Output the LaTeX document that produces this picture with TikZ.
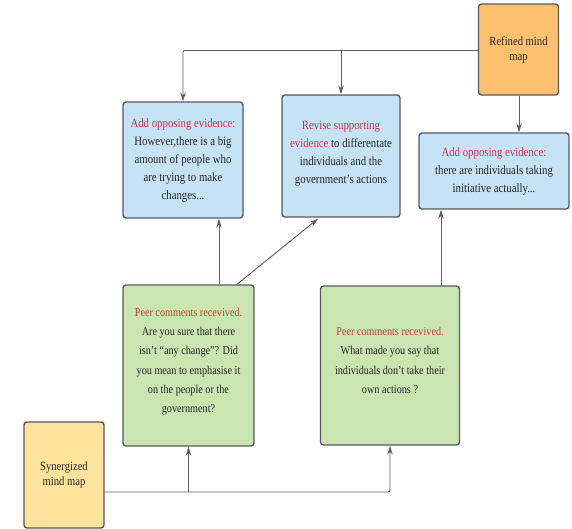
\documentclass[tikz,border=0pt]{standalone}
\usepackage{fontspec}
\setmainfont[FakeStretch=0.85]{Liberation Serif}
\usetikzlibrary{arrows.meta}
\definecolor{boxline}{HTML}{555A60}
\definecolor{txt}{HTML}{262626}
\definecolor{hl}{HTML}{D2304C}
\definecolor{hlpeer}{HTML}{C8402E}
\definecolor{bluefill}{HTML}{C6E3F5}
\definecolor{greenfill}{HTML}{CAE5B2}
\definecolor{orangefill}{HTML}{FFC070}
\definecolor{yellowfill}{HTML}{FFE39D}
\definecolor{conncol}{HTML}{5C5F63}
\tikzset{
  card/.style={draw=boxline, line width=1.4pt, rounded corners=3pt, align=center,
    text=txt, inner sep=2pt, font=\fontsize{12.7}{18}\selectfont},
  bluecard/.style={card, fill=bluefill},
  greencard/.style={card, fill=greenfill, font=\fontsize{12}{19.3}\selectfont},
  mapcard/.style={card, font=\fontsize{12.5}{15}\selectfont},
  conn/.style={draw=conncol, line width=0.9pt, -{Stealth[length=9pt,width=5.5pt]}},
}
\begin{document}
\begin{tikzpicture}[x=1pt,y=-1pt]
\useasboundingbox (0,0) rectangle (572,529);

% top row: revised evidence
\node[bluecard, minimum width=120pt, minimum height=116pt] (add1) at (183,160)
  {\textcolor{hl}{Add opposing evidence:}\\However,there is a big\\amount of people who\\are trying to make\\changes...};
\node[bluecard, minimum width=118pt, minimum height=122pt] (revise) at (341,156)
  {\textcolor{hl}{Revise supporting}\\\textcolor{hl}{evidence} to differentate\\individuals and the\\government's actions\\[-11pt]};
\node[bluecard, minimum width=150pt, minimum height=76pt] (add2) at (494,171)
  {\textcolor{hl}{Add opposing evidence:}\\there are individuals taking\\initiative actually...};

% refined map
\node[mapcard, fill=orangefill, minimum width=80pt, minimum height=91pt] (refined) at (518.5,49.5)
  {Refined mind\\map};

% peer comments
\node[greencard, minimum width=131pt, minimum height=161pt] (peer1) at (188.5,365.5)
  {\textcolor{hlpeer}{Peer comments recevived.}\\Are you sure that there\\isn't “any change”? Did\\you mean to emphasise it\\on the people or the\\government?\\[-9pt]};
\node[greencard, minimum width=139pt, minimum height=159pt] (peer2) at (390,365.5)
  {\textcolor{hlpeer}{Peer comments recevived.}\\What made you say that\\individuals don't take their\\own actions ?\\[-9pt]};

% synergized map
\node[mapcard, fill=yellowfill, minimum width=80pt, minimum height=106pt] (syn) at (64,475)
  {Synergized\\mind map};

% refined map feeds the top row
\coordinate (rw) at ([yshift=-1pt]refined.west);
\draw[conn, rounded corners=2pt] (rw) -| (add1.north);
\draw[conn] (rw -| revise.north) -- (revise.north);
\draw[conn] (refined.south -| 519,0) -- (add2.north -| 519,0);

% peer comments lead to revisions
\draw[conn] ([xshift=30.5pt]peer1.north) -- ([xshift=30.5pt]peer1.north |- add1.south);
\draw[conn] ([xshift=48.5pt]peer1.north) -- ([xshift=-23pt,yshift=-1pt]revise.south);
\draw[conn] ([xshift=51pt]peer2.north) -- ([xshift=51pt]peer2.north |- add2.south);

% synergized map feeds the peer comments
\coordinate (se) at ([yshift=-17pt]syn.east);
\draw[conn, rounded corners=2pt] (se) -| (peer2.south);
\draw[conn] (se -| peer1.south) -- (peer1.south);
\end{tikzpicture}
\end{document}
